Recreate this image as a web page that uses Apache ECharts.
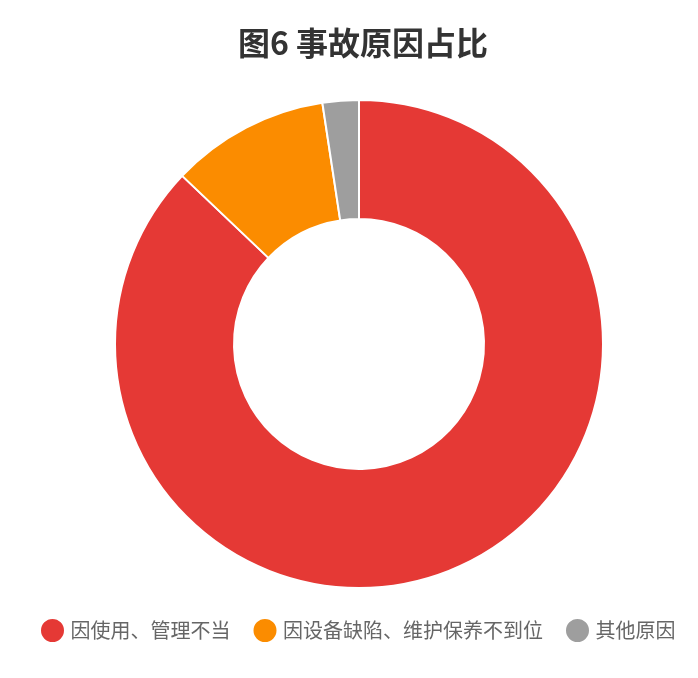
<!DOCTYPE html>
<html>
<head>
<meta charset="utf-8">
<script src="https://cdn.jsdelivr.net/npm/echarts@6/dist/echarts.min.js"></script>
<style>
html, body { margin: 0; padding: 0; background: #fff; }
#main { width: 698px; height: 678px; }
</style>
</head>
<body>
<div id="main"></div>
<script>
var names = ['因使用、管理不当', '因设备缺陷、维护保养不到位', '其他原因'];
var values = [87.1, 10.5, 2.4];
var colors = ['#E53935', '#FB8C00', '#9E9E9E'];

var myChart = echarts.init(document.getElementById('main'));
var option = {
	backgroundColor: '#fff',
	color: colors,
	title: {
		text: '图6 事故原因占比',
		left: 358,
		textAlign: 'center',
		top: 22,
		textStyle: {
			color: '#333',
			fontSize: 32,
			fontWeight: 'bold',
			fontFamily: 'Noto Sans CJK SC'
		}
	},
	legend: {
		data: names,
		left: 34,
		top: 612,
		icon: 'circle',
		itemWidth: 26,
		itemHeight: 25,
		itemGap: 21,
		textStyle: {
			color: '#666',
			fontSize: 20,
			fontFamily: 'Noto Sans CJK SC'
		}
	},
	series: [{
		type: 'pie',
		center: [359, 344],
		radius: [125, 244],
		startAngle: 90,
		clockwise: true,
		label: { show: false },
		labelLine: { show: false },
		itemStyle: {
			borderColor: '#fff',
			borderWidth: 2
		},
		data: names.map(function (n, i) {
			return { name: n, value: values[i] };
		})
	}]
};
myChart.setOption(option);
</script>
</body>
</html>
